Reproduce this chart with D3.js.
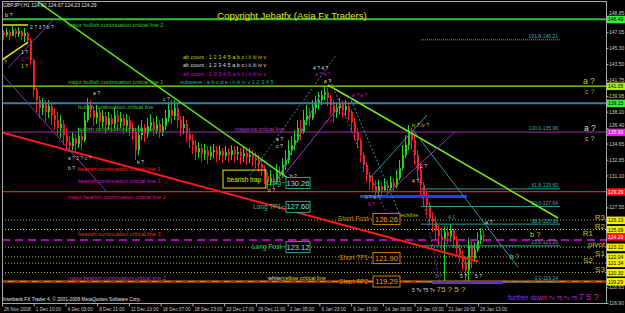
<!DOCTYPE html>
<html>
<head>
<meta charset="utf-8">
<script src="https://cdn.jsdelivr.net/npm/d3@7"></script>
<style>
  body { margin: 0; background: #000; overflow: hidden; }
  svg { display: block; font-family: "Liberation Sans", Arial, sans-serif; }
</style>
</head>
<body>
<div id="chart"></div>
<script>
const width = 625
const height = 313
const frame = {left: 2, top: 1, right: 606, bottom: 303}

// GBPJPY H1, one candle = 6 hourly bars
const firstOpen = 147.00
const closes = [
  146.73,147.07,146.62,147.29,146.84,147.18,146.62,146.95,146.17,143.95,
  140.60,139.49,138.60,139.04,138.15,138.82,137.82,137.26,136.37,136.82,
  135.59,134.81,134.37,135.26,134.59,135.48,135.03,137.26,138.93,138.38,
  137.48,138.15,137.04,137.71,136.71,137.48,136.82,137.82,137.04,137.48,
  136.59,137.26,136.37,135.93,133.92,135.59,136.37,135.70,136.59,137.04,
  136.15,136.82,135.93,136.59,137.48,138.38,137.71,138.60,137.26,136.37,
  136.82,135.70,135.03,134.48,133.70,134.14,133.48,133.92,133.25,133.70,
  133.92,133.36,133.81,133.25,133.70,133.36,133.92,133.48,133.70,133.25,
  133.59,133.14,133.36,133.03,132.81,132.36,131.91,131.02,130.36,130.80,
  130.36,131.47,131.02,132.25,132.81,133.92,134.48,135.03,136.37,135.93,
  137.26,137.82,137.48,138.60,139.04,139.49,140.05,140.38,139.71,138.93,
  138.15,138.60,139.04,138.38,138.82,138.15,137.04,135.93,135.03,133.36,
  132.25,131.13,130.36,129.91,129.24,129.91,129.47,130.02,129.69,130.36,
  129.91,130.80,131.91,133.36,134.48,135.93,135.03,133.36,131.69,130.02,
  128.91,127.79,126.35,125.90,125.01,124.34,123.90,124.79,124.34,125.01,
  123.90,123.00,122.22,121.44,120.55,123.34,121.89,122.78,123.90,124.45,124.29
]
const highs = [
  147.29,147.51,147.29,147.73,147.51,147.62,147.29,147.51,147.07,146.40,
  144.17,140.83,139.94,139.71,139.49,139.49,139.27,138.60,138.15,137.82,
  137.26,136.37,135.48,135.93,135.70,136.37,136.15,138.15,139.71,139.49,
  138.82,138.93,138.60,138.38,138.15,138.15,137.93,138.60,138.38,138.15,
  137.93,137.93,137.71,137.04,136.37,136.71,137.26,136.82,137.48,137.93,
  137.48,137.71,137.26,137.48,138.38,139.27,139.49,139.49,139.04,137.71,
  137.71,137.26,136.37,135.70,135.03,134.81,134.59,134.59,134.37,134.37,
  134.59,134.37,134.48,134.14,134.37,134.14,134.48,134.37,134.37,134.14,
  134.26,134.03,134.14,133.92,133.70,133.36,133.03,132.25,131.47,131.69,
  131.25,132.36,132.14,133.03,133.92,135.03,135.48,136.15,137.26,137.26,
  138.38,138.93,138.60,139.49,139.94,140.38,140.60,141.05,140.83,140.05,
  139.49,139.27,139.71,139.49,139.49,139.04,138.38,137.48,136.37,135.26,
  133.70,132.59,131.47,131.02,130.58,130.58,130.36,130.80,130.58,131.02,
  130.80,131.69,132.81,134.48,135.59,136.71,136.37,135.59,133.92,132.25,
  130.36,129.47,128.13,127.01,126.57,125.57,125.23,125.45,125.45,125.68,
  125.23,124.34,123.45,122.78,122.11,124.12,123.90,123.67,124.79,125.23,125.01
]
const lows = [
  146.17,146.51,146.17,146.62,146.40,146.51,146.17,145.95,145.62,143.39,
  139.83,138.15,137.48,137.82,137.04,137.48,136.71,136.15,135.59,135.26,
  134.48,133.92,133.70,133.92,133.70,134.14,133.92,134.81,137.04,137.48,
  136.59,136.82,136.15,136.37,135.70,136.15,135.93,136.37,136.15,136.37,
  135.70,135.93,135.48,135.03,132.81,133.36,135.03,134.81,135.26,135.93,
  135.48,135.70,135.26,135.48,136.15,137.04,136.82,137.26,136.37,135.48,
  135.70,134.81,134.14,133.48,132.81,133.03,132.59,132.81,132.36,132.81,
  133.03,132.59,132.81,132.47,132.81,132.59,132.81,132.59,132.81,132.36,
  132.59,132.25,132.47,132.14,131.91,131.47,131.02,130.13,129.47,129.91,
  129.69,130.13,130.36,130.80,131.69,132.36,133.36,133.92,134.81,135.03,
  135.70,136.71,136.59,137.26,137.93,138.38,138.93,139.49,138.82,137.82,
  137.04,137.48,137.93,137.48,137.71,137.26,135.93,135.03,134.14,132.59,
  131.47,130.36,129.47,129.24,128.80,128.91,128.80,129.24,129.02,129.47,
  129.24,129.69,130.58,131.69,133.03,133.92,133.92,132.25,130.80,128.91,
  127.79,126.68,125.57,124.79,123.90,123.34,122.78,119.11,123.45,123.67,
  123.00,122.11,121.44,120.55,119.11,119.22,120.78,121.44,122.56,123.45,123.67
]

const priceTicks = [148.85,147.05,145.30,143.50,141.75,139.95,138.20,136.40,134.65,
  132.85,131.10,129.30,127.55,125.75,124.00,122.20,120.45,118.65,116.90]
const dateLabels = ["26 Nov 2008","1 Dec 10:00","4 Dec 03:00","8 Dec 21:00","11 Dec 13:00",
  "16 Dec 07:00","18 Dec 23:00","23 Dec 17:00","29 Dec 11:00","2 Jan 05:00","6 Jan 23:00",
  "9 Jan 15:00","14 Jan 09:00","19 Jan 03:00","21 Jan 19:00","26 Jan 13:00"]
const candlesPerDateLabel = 10.58

// horizontal objects
const levelPrices = [148.49, 141.05, 139.15, 135.93, 129.29, 123.90, 119.29]
const pivotNames = ["R3", "R2", "R1", "pivot", "S1", "S2", "S3"]
const pivotPrices = [126.13, 125.09, 124.35, 123.12, 122.04, 121.34, 120.30]
const fibNames = ["161.8", "100.0", "61.8", "50.0", "38.2", "23.6", "0.0"]
const fibPrices = [146.21, 135.96, 129.60, 127.64, 125.68, 123.26, 119.24]
const longNames = ["Long~", "Long TP1~", "Long Post~"]
const longPrices = [130.26, 127.60, 123.12]
const shortNames = ["Short Post~", "Short TP1~", "Short TP2~"]
const shortPrices = [126.26, 121.90, 119.29]
const boxPrices = [148.49, 141.05, 139.15, 135.93, 129.29, 126.13, 125.09, 124.29, 123.12, 122.04, 121.34, 120.30, 119.29]
const bluePrices = [128.76, 119.18]

// trend lines: [candle from, price from, candle to, price to]
const trendLines = [
  [11.3, 150.41, 96, 130.48],
  [108, 141.17, 184.7, 126.36],
  [-1.3, 135.94, 158, 121.52],
  [-0.7, 147.85, 8, 147.85],
  [-0.7, 143.95, 8, 145.95],
  [-1.3, 142.61, 34.3, 129.26],
  [1.3, 143.06, 17, 148.63],
  [92, 130.59, 112, 138.94],
  [108.7, 141.72, 127, 127.25],
  [127, 128.81, 150.3, 135.94],
  [136.3, 133.93, 145.3, 119.24],
  [82, 131.15, 110.7, 144.51],
  [90.3, 130.04, 105.3, 140.05],
  [136.3, 136.16, 171.3, 120.91],
  [115.3, 139.83, 132, 126.70],
  [122, 130.81, 141, 137.83]
]
const trendStyles = [
  {c: "#55e81a", w: 1.5}, {c: "#7bea1a", w: 1.5}, {c: "#ff1a1a", w: 2},
  {c: "#e8e800", w: 1.5}, {c: "#e8e800", w: 1.5},
  {c: "#8a2fb8", w: 1}, {c: "#8a2fb8", w: 1}, {c: "#a030c0", w: 1},
  {c: "#a030c0", w: 1, d: "2,2"}, {c: "#a030c0", w: 1}, {c: "#a030c0", w: 1, d: "2,2"},
  {c: "#2a9a9a", w: 1, d: "2,2"}, {c: "#2a9a9a", w: 1}, {c: "#2a9a9a", w: 1},
  {c: "#2a9a9a", w: 1, d: "2,2"}, {c: "#2a9a9a", w: 1}
]

const x = d3.scaleLinear().domain([0, 160]).range([4, 484])
const y = d3.scaleLinear().domain([116.90, 148.85]).range([303, 16])

const svg = d3.select("#chart").append("svg")
  .attr("width", width).attr("height", height)

svg.append("rect").attr("width", width).attr("height", height).attr("fill", "#000")

svg.append("clipPath").attr("id", "clip").append("rect")
  .attr("x", frame.left).attr("y", frame.top)
  .attr("width", frame.right - frame.left).attr("height", frame.bottom - frame.top)

const plot = svg.append("g").attr("clip-path", "url(#clip)")

// candles
const candles = closes.map((c, i) => {
  const o = i === 0 ? firstOpen : closes[i - 1]
  return {i, o, c, h: Math.max(highs[i], o, c), l: Math.min(lows[i], o, c)}
})
const candleGroup = plot.append("g")
candleGroup.selectAll(".wick").data(candles).join("rect")
  .attr("x", d => x(d.i) - 1)
  .attr("y", d => y(d.h))
  .attr("width", 1)
  .attr("height", d => y(d.l) - y(d.h))
  .attr("fill", d => d.c >= d.o ? "#1ed81e" : "#f01e1e")
candleGroup.selectAll(".body").data(candles).join("rect")
  .attr("x", d => x(d.i) - 1)
  .attr("y", d => y(Math.max(d.o, d.c)))
  .attr("width", 2)
  .attr("height", d => Math.max(1, Math.abs(y(d.o) - y(d.c))))
  .attr("fill", d => d.c >= d.o ? "#1ed81e" : "#f01e1e")

// full width levels
const levelStyles = [
  {c: "#2fbf2f", w: 2}, {c: "#86f000", w: 1.2}, {c: "#3b7fa8", w: 2},
  {c: "#a22aa8", w: 1}, {c: "#ff1010", w: 1.3}, {c: "#b000b8", w: 2, d: "8,5"},
  {c: "#ff7a00", w: 2}
]
plot.selectAll(".level").data(levelPrices).join("line")
  .attr("x1", frame.left).attr("x2", frame.right)
  .attr("y1", d => y(d)).attr("y2", d => y(d))
  .attr("stroke", (d, i) => levelStyles[i].c)
  .attr("stroke-width", (d, i) => levelStyles[i].w)
  .attr("stroke-dasharray", (d, i) => levelStyles[i].d || null)
plot.append("line")
  .attr("x1", frame.left).attr("x2", frame.right)
  .attr("y1", y(levelPrices[6])).attr("y2", y(levelPrices[6]))
  .attr("stroke", "#e01818").attr("stroke-width", 1).attr("stroke-dasharray", "6,6")

// pivot dotted lines (R1 sits under the current price)
plot.selectAll(".pivot").data(pivotPrices.filter((d, i) => i !== 2)).join("line")
  .attr("x1", frame.left).attr("x2", frame.right)
  .attr("y1", d => y(d)).attr("y2", d => y(d))
  .attr("stroke", (d, i) => i === 1 ? "#d8d8a0" : "#b8b830")
  .attr("stroke-width", 1).attr("stroke-dasharray", "1,2")

// fibo levels
plot.selectAll(".fib").data(fibPrices.map((p, i) => ({p, i})).filter(d => d.i !== 1)).join("line")
  .attr("x1", x(139)).attr("x2", x(185.3))
  .attr("y1", d => y(d.p)).attr("y2", d => y(d.p))
  .attr("stroke", d => d.i === 0 ? "#2f6f9f" : "#2a9d9d")
  .attr("stroke-width", d => d.i === 0 ? 1.5 : 1)
  .attr("stroke-dasharray", d => d.i === 0 ? "1,1" : null)
plot.selectAll(".fibtxt").data(fibPrices).join("text")
  .attr("x", x(184.7)).attr("y", d => y(d) - 1.5)
  .attr("text-anchor", "end").attr("font-size", 5).attr("fill", "#3ab0b0")
  .text((d, i) => `${fibNames[i]}-${d.toFixed(2)}`)

// blue zones
plot.append("line").attr("x1", x(118.7)).attr("x2", x(154.3))
  .attr("y1", y(bluePrices[0])).attr("y2", y(bluePrices[0]))
  .attr("stroke", "#1f3fff").attr("stroke-width", 3)
plot.append("line").attr("x1", x(142.7)).attr("x2", x(166.3))
  .attr("y1", y(bluePrices[1])).attr("y2", y(bluePrices[1]))
  .attr("stroke", "#5a30e0").attr("stroke-width", 3)

// trend lines
plot.selectAll(".trend").data(trendLines).join("line")
  .attr("x1", d => x(d[0])).attr("y1", d => y(d[1]))
  .attr("x2", d => x(d[2])).attr("y2", d => y(d[3]))
  .attr("stroke", (d, i) => trendStyles[i].c)
  .attr("stroke-width", (d, i) => trendStyles[i].w)
  .attr("stroke-dasharray", (d, i) => trendStyles[i].d || null)

// text objects
const lineNotes = [
  ["major bullish continuation critical line 2", 21.3, 147.62, "#33c833"],
  ["major bullish continuation critical line 1", 21.3, 141.28, "#33c833"],
  ["bullish continuation critical line", 24.7, 138.50, "#33c833"],
  ["bullish continuation critical line 1", 24.7, 136.05, "#33c833"],
  ["magenta critical line", 77, 136.05, "#b040c0"],
  ["bearish continuation critical line 1", 24.7, 131.60, "#ff2020"],
  ["bearish continuation critical line 2", 24.7, 130.26, "#cc10cc"],
  ["major bearish continuation critical line 1", 21.3, 128.48, "#e01070"],
  ["bearish continuation critical line 3", 24.7, 124.36, "#ff2020"],
  ["major bearish continuation critical line 2", 21.3, 119.46, "#cc22cc"],
  ["neckline", 131.3, 126.48, "#9acd00"]
]
plot.selectAll(".note").data(lineNotes).join("text")
  .attr("x", d => x(d[1])).attr("y", d => y(d[2]))
  .attr("font-size", 5.6).attr("fill", d => d[3])
  .text(d => d[0])

const wt = plot.append("text").attr("x", x(88)).attr("y", y(119.46)).attr("font-size", 5.6)
wt.append("tspan").attr("fill", "#e0e0e0").text("white")
wt.append("tspan").attr("fill", "#e0e000").text("/yellow critical line")

const waveNotes = [
  ["b ?", 0.3, 148.74, "#ddd", 5.5], ["2 ? 3 ? b ?", 8.7, 147.40, "#ddd", 5],
  ["1 ?", 5.7, 144.62, "#ddd", 5], ["1 ?", 5.7, 143.84, "#c0c", 5], ["1 ?", 5.7, 143.06, "#cc0", 5],
  ["?", 0, 143.51, "#cc0", 5], ["a ?", 29.7, 140.06, "#ddd", 5], ["c ?", 53, 139.39, "#ddd", 5],
  ["a ? 2 ? c ?", 21.3, 132.82, "#bbb", 5], ["b ?", 21.3, 131.71, "#ddd", 5],
  ["b ?", 44.3, 132.38, "#ddd", 5], ["4 ? 4 ?", 103, 142.84, "#ddd", 5],
  ["a ? a ?", 103.7, 142.17, "#c0c", 5], ["a ?", 106.7, 141.39, "#ddd", 5],
  ["a ?", 90.7, 134.94, "#ddd", 5], ["c ?", 90.7, 134.16, "#ddd", 5],
  ["b ?", 95.3, 130.82, "#ddd", 5], ["d ?", 88, 129.26, "#ddd", 5],
  ["i ? ?", 106.3, 136.83, "#c0c", 5], ["a ? a ?", 116, 139.83, "#c0c", 5],
  ["b ? b ?", 120.3, 128.48, "#aaa", 5], ["b ?", 121.3, 127.70, "#c0c", 5],
  ["iv ? iv ?", 136, 136.49, "#cc0", 5], ["2 ?", 138.7, 131.93, "#ddd", 5],
  ["4 ?", 136, 130.26, "#ddd", 5], ["a ?", 160.3, 125.70, "#ddd", 5.5],
  ["4.1", 148, 126.25, "#3aa", 5], ["b ?", 168.7, 121.80, "#aaa", 6.5],
  ["3 ?", 143.7, 119.68, "#3aa", 5], ["5 ?", 152, 119.68, "#ddd", 5], ["5 ?", 157, 119.68, "#ddd", 5],
  ["b ?", 175.3, 124.25, "#c8c800", 7.5],
  ["a ?", 193, 141.28, "#c8c800", 8.5], ["c ?", 193.7, 140.17, "#a8a800", 7],
  ["a ?", 193.3, 136.05, "#dddddd", 8.5], ["c ?", 193.7, 134.94, "#bbbbbb", 7]
]
plot.selectAll(".wave").data(waveNotes).join("text")
  .attr("x", d => x(d[1])).attr("y", d => y(d[2]))
  .attr("font-size", d => d[4]).attr("fill", d => d[3])
  .text(d => d[0])

const bw = plot.append("text").attr("x", x(136)).attr("y", y(118.13))
bw.append("tspan").attr("font-size", 5).attr("fill", "#ddd").text("5 ?v ?5 ?v ")
bw.append("tspan").attr("font-size", 8).attr("fill", "#c8c800").text("75 ? 5 ?")

const fd = plot.append("text").attr("x", x(168)).attr("y", y(117.23)).attr("fill", "#c020d0")
fd.append("tspan").attr("font-size", 7).text("further down ")
fd.append("tspan").attr("font-size", 5.5).text("?v ?5 ?v ?5 ")
fd.append("tspan").attr("font-size", 9).text("7 5 ?")

// pivot names
plot.selectAll(".pname").data(pivotPrices).join("text")
  .attr("x", (d, i) => x(i === 2 || i === 5 ? 196.3 : 200.3))
  .attr("y", d => y(d) - 0.5)
  .attr("text-anchor", "end").attr("font-size", 8).attr("fill", "#c8c800")
  .text((d, i) => pivotNames[i])

// bearish trap box
plot.append("rect")
  .attr("x", x(73)).attr("y", y(131.70))
  .attr("width", x(87.3) - x(73)).attr("height", y(129.70) - y(131.70))
  .attr("fill", "none").attr("stroke", "#e8e800").attr("stroke-width", 1)
plot.append("text").attr("x", x(73) + 4).attr("y", y(130.70) + 2.5)
  .attr("font-size", 6.5).attr("fill", "#e8e800").text("bearish trap")

// entry / target boxes
function entryBoxes(names, prices, i0, i1, stroke, fill, labelColor) {
  const g = plot.append("g")
  g.selectAll("rect").data(prices).join("rect")
    .attr("x", x(i0)).attr("y", d => y(d) - 5.5)
    .attr("width", x(i1) - x(i0)).attr("height", 11)
    .attr("fill", "#000").attr("stroke", stroke).attr("stroke-width", 1)
  g.selectAll(".v").data(prices).join("text")
    .attr("x", (x(i0) + x(i1)) / 2).attr("y", d => y(d) + 2.6)
    .attr("text-anchor", "middle").attr("font-size", 7.5).attr("fill", fill)
    .text(d => d.toFixed(2))
  g.selectAll(".n").data(prices).join("text")
    .attr("x", x(i0) - 1).attr("y", d => y(d) + 2.3)
    .attr("text-anchor", "end").attr("font-size", 6.5).attr("fill", labelColor)
    .text((d, i) => names[i])
}
entryBoxes(longNames, longPrices, 94, 102, "#2aa58a", "#7fe0e0", "#33c866")
entryBoxes(shortNames, shortPrices, 123, 132, "#d08000", "#ff9a20", "#d08a00")

// screen labels
svg.append("text").attr("x", 3).attr("y", 7).attr("font-size", 5)
  .attr("fill", "#e0e0e0").text("GBPJPY,H1  124.62 124.67 124.23 124.29")
svg.append("text").attr("x", 292).attr("y", 19).attr("text-anchor", "middle")
  .attr("font-size", 9.5).attr("fill", "#e6e600").text("Copyright Jebatfx (Asia Fx Traders)")
svg.append("text").attr("x", 3).attr("y", 301).attr("font-size", 4.8)
  .attr("fill", "#e0e0e0").text("Interbank FX Trader 4, \u00a9 2001-2008 MetaQuotes Software Corp.")

const legendRows = [
  ["alt count : 1 2 3 4 5 a b c i ii iii iv v", "#cccc00"],
  ["alt count : 1 2 3 4 5 a b c i ii iii iv v", "#dddddd"],
  ["alt count : 1 2 3 4 5 a b c i ii iii iv v", "#cc00cc"]
]
svg.selectAll(".legend").data(legendRows).join("text")
  .attr("x", 183).attr("y", (d, i) => 59 + i * 8.3)
  .attr("font-size", 5.6).attr("fill", d => d[1]).text(d => d[0])
svg.append("text").attr("x", 180).attr("y", y(141.28))
  .attr("font-size", 5.6).attr("fill", "#00b0b0").text("subwave : a b c d e i ii iii iv v 1 2 3 4 5")

// frame
svg.append("rect")
  .attr("x", frame.left + 0.5).attr("y", frame.top + 0.5)
  .attr("width", frame.right - frame.left).attr("height", frame.bottom - frame.top)
  .attr("fill", "none").attr("stroke", "#a8a8a8").attr("stroke-width", 1)

// price axis: labels under a price box are hidden, labels just above one move up a little
const gapToBox = d => d3.min(boxPrices, b => Math.abs(y(b) - y(d)))
const boxBelow = d => boxPrices.some(b => y(b) - y(d) > 2.5 && y(b) - y(d) < 6)
const yAxis = d3.axisRight(y).tickValues(priceTicks).tickSize(2).tickPadding(0.5)
  .tickFormat(d3.format(".2f"))
const yAxisGroup = svg.append("g").attr("transform", `translate(${frame.right + 0.5},0)`).call(yAxis)
yAxisGroup.select(".domain").remove()
yAxisGroup.selectAll("line").attr("stroke", "#a8a8a8")
yAxisGroup.selectAll("text").attr("fill", "#c8c8c8").attr("font-size", 5)
  .attr("font-family", "Liberation Sans, Arial, sans-serif")
  .attr("dy", d => boxBelow(d) ? "-0.35em" : "0.32em")
  .attr("display", d => gapToBox(d) < 4.2 && !boxBelow(d) ? "none" : null)

// date axis
const xAxis = d3.axisBottom(x)
  .tickValues(dateLabels.map((d, i) => i * candlesPerDateLabel - 0.67))
  .tickFormat((d, i) => dateLabels[i]).tickSize(3).tickPadding(1)
const xAxisGroup = svg.append("g").attr("transform", `translate(0,${frame.bottom + 0.5})`).call(xAxis)
xAxisGroup.select(".domain").remove()
xAxisGroup.selectAll("line").attr("stroke", "#a8a8a8")
xAxisGroup.selectAll("text").attr("fill", "#c8c8c8").attr("font-size", 4.7)
  .attr("text-anchor", "start").attr("dx", 1.5)
  .attr("font-family", "Liberation Sans, Arial, sans-serif")

// price boxes on the axis
const boxColors = ["#33ee33", "#a8f020", "#33ee33", "#e020e0", "#ff1010", "#f0f000", "#f0f000",
  "#ff1010", "#f0f000", "#f0f000", "#f0f000", "#f0f000", "#f0f000"]
const boxText = ["#000", "#000", "#000", "#fff", "#fff", "#000", "#000", "#fff", "#000", "#000", "#000", "#000", "#000"]
const boxes = svg.append("g")
boxes.selectAll("rect").data(boxPrices).join("rect")
  .attr("x", frame.right + 1).attr("y", d => y(d) - 3.5)
  .attr("width", width - frame.right - 1).attr("height", 7.5)
  .attr("fill", (d, i) => boxColors[i])
boxes.selectAll("text").data(boxPrices).join("text")
  .attr("x", frame.right + 2).attr("y", d => y(d) + 2.2)
  .attr("font-size", 5).attr("fill", (d, i) => boxText[i])
  .text(d => d.toFixed(2))
</script>
</body>
</html>
